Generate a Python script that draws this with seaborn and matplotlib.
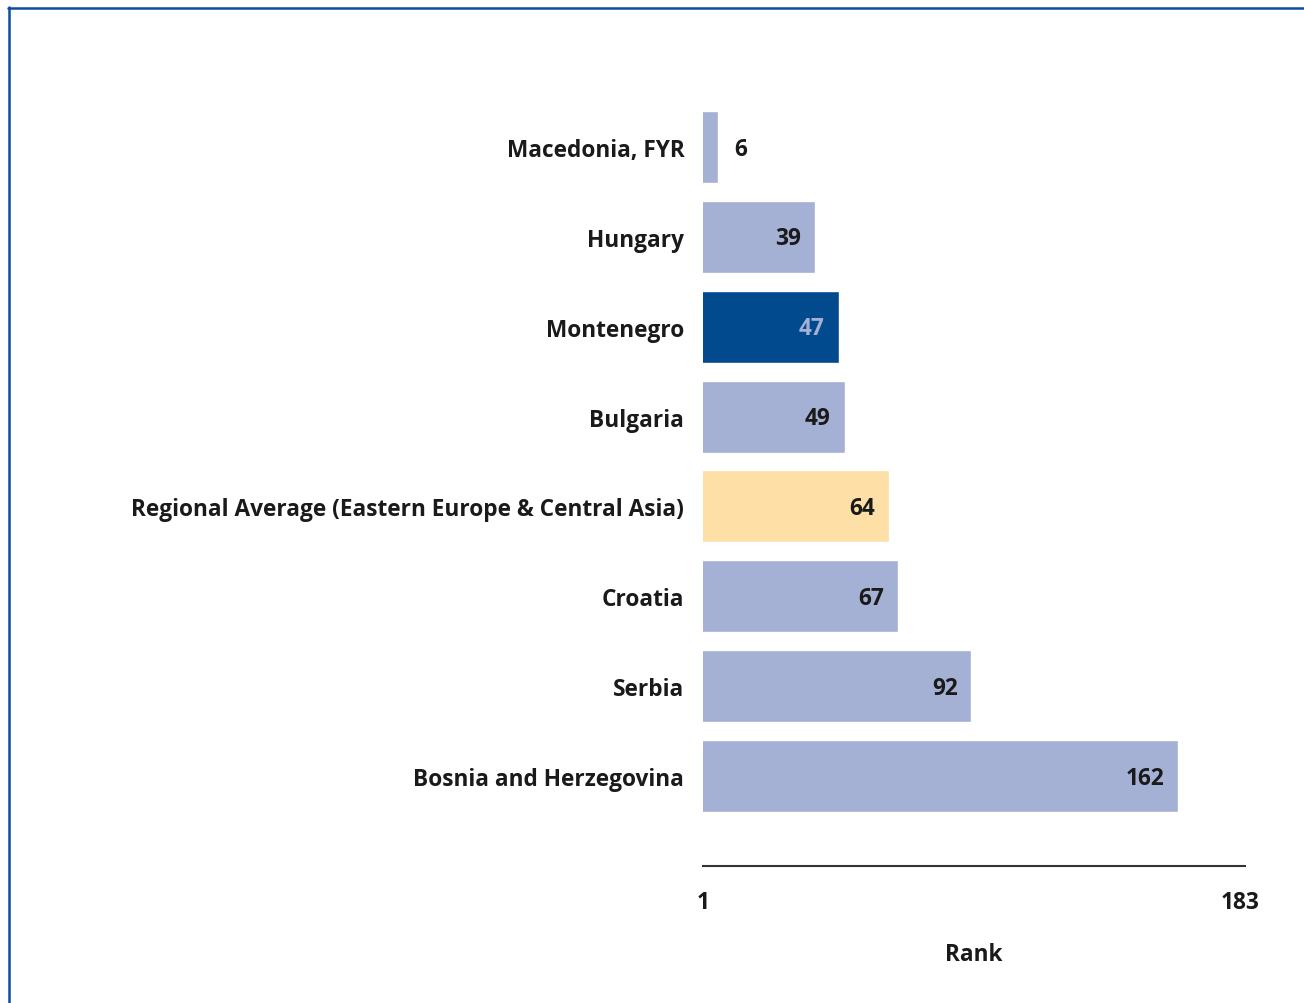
import matplotlib
matplotlib.use("Agg")
import matplotlib.pyplot as plt
from matplotlib.lines import Line2D
import seaborn as sns
import pandas as pd

countries = ["Macedonia, FYR", "Hungary", "Montenegro", "Bulgaria",
             "Regional Average (Eastern Europe & Central Asia)", "Croatia",
             "Serbia", "Bosnia and Herzegovina"]
ranks = [6, 39, 47, 49, 64, 67, 92, 162]
tick_values = [1, 183]
tick_labels = ["1", "183"]

light = "#A4B0D4"
dark = "#004A8D"
peach = "#FEDFA6"
bar_colors = {c: light for c in countries}
bar_colors["Montenegro"] = dark
bar_colors["Regional Average (Eastern Europe & Central Asia)"] = peach

df = pd.DataFrame({"country": countries, "rank": ranks})

sns.set_theme(style="white")
plt.rcParams["font.family"] = ["Open Sans", "DejaVu Sans"]
txt = "#1a1a1a"
fs = 16.3

W, H = 1304, 1004
fig = plt.figure(figsize=(W / 100, H / 100), dpi=100)
ax = fig.add_axes([703 / W, 1 - 867 / H, (1245 - 703) / W, (867 - 58) / H])

sns.barplot(data=df, y="country", x="rank", hue="country", palette=bar_colors,
            orient="h", legend=False, ax=ax, width=0.8, saturation=1)

ax.set_xlim(1, 184.7)
ax.set_ylim(8, -1)
ax.set_xticks(tick_values)
ax.set_xticklabels(tick_labels, fontsize=fs, fontweight="bold", color=txt)
ax.tick_params(axis="x", length=0, pad=17.5)
ax.tick_params(axis="y", length=0, pad=13.5)
for lab in ax.get_yticklabels():
    lab.set_fontsize(fs)
    lab.set_fontweight("bold")
    lab.set_color(txt)
ax.set_ylabel("")
ax.set_xlabel("Rank", fontsize=fs, fontweight="bold", color=txt, labelpad=20)

for s in ["left", "right", "top"]:
    ax.spines[s].set_visible(False)
ax.spines["bottom"].set_color("#333333")
ax.spines["bottom"].set_linewidth(1.5)

for i, (c, r) in enumerate(zip(countries, ranks)):
    if r < 15:
        ax.annotate(str(r), xy=(r, i), xytext=(12, -1.2), textcoords="offset points",
                    ha="left", va="center", fontsize=fs, fontweight="bold", color=txt)
    else:
        col = light if c == "Montenegro" else txt
        ax.annotate(str(r), xy=(r, i), xytext=(-10, -1.2), textcoords="offset points",
                    ha="right", va="center", fontsize=fs, fontweight="bold", color=col)

border = "#0B4F9C"
fig.add_artist(Line2D([9 / W, 9 / W], [0, 1 - 8 / H], transform=fig.transFigure,
                      color=border, lw=1.8))
fig.add_artist(Line2D([8 / W, 1], [1 - 9 / H, 1 - 9 / H], transform=fig.transFigure,
                      color=border, lw=1.8))

fig.savefig("out.png", dpi=100, facecolor="white")
